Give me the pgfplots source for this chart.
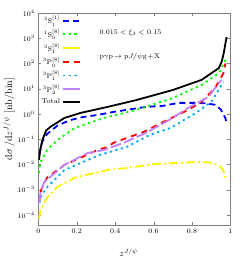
\documentclass[border=0pt]{standalone}
\usepackage{pgfplots}
\pgfplotsset{compat=1.18}
\definecolor{mypurple}{RGB}{190,130,250}
\begin{document}
\begin{tikzpicture}
\begin{axis}[
  at={(0,0)}, anchor=south west,
  scale only axis, width=192pt, height=212pt,
  ymode=log, xmin=0, xmax=1, ymin=3.98e-5, ymax=1e4,
  ytick={1e-4,1e-3,1e-2,1e-1,1,1e1,1e2,1e3,1e4},
  yminorticks=false,
  xtick={0,0.2,0.4,0.6,0.8,1},
  xticklabels={0,0.2,0.4,0.6,0.8,1},
  tick label style={font=\scriptsize},
  axis line style={gray},
  major tick length=3pt,
  xlabel={$z^{J/\psi}$},
  ylabel={$\mathrm{d}\sigma\,/\mathrm{d}z^{J/\psi}\ [\mathrm{nb/bin}]$},
  xlabel style={font=\small, at={(axis description cs:0.47,-0.095)}, anchor=north},
  ylabel style={font=\normalsize, yshift=-4pt},
  legend style={draw=none, fill=none, font=\scriptsize, at={(axis description cs:0.0,1.0)}, anchor=north west, row sep=0.8pt, inner sep=1pt},
  legend cell align=right, legend plot pos=right,
  every axis plot/.append style={line width=1.8pt},
]
\addplot[blue, dash pattern=on 6pt off 4pt] coordinates {
(0.005,0.025) (0.02,0.08) (0.045,0.16) (0.1,0.35) (0.167,0.575) (0.23,0.75) (0.307,0.91) (0.39,1.2) (0.49,1.58) (0.56,1.9) (0.65,2.1) (0.73,2.75) (0.83,2.75) (0.88,2.6) (0.92,2.3) (0.95,1.5) (0.965,0.9) (0.974,0.69) (0.98,0.4)};
\addlegendentry{$^3\mathrm{S}_1^{[1]}$}
\addplot[green, dash pattern=on 2.2pt off 3.5pt] coordinates {
(0.003,0.0046) (0.01,0.012) (0.045,0.037) (0.099,0.093) (0.19,0.28) (0.34,0.69) (0.51,1.45) (0.70,4.27) (0.85,14.1) (0.94,41.7) (0.974,138)};
\addlegendentry{$^1\mathrm{S}_0^{[8]}$}
\addplot[yellow, dash pattern=on 9pt off 3pt on 2pt off 3pt, legend image post style={solid}] coordinates {
(0.003,0.00007) (0.01,0.00015) (0.047,0.00051) (0.099,0.0013) (0.19,0.003) (0.36,0.006) (0.46,0.0072) (0.615,0.0105) (0.75,0.0118) (0.85,0.0126) (0.91,0.0115) (0.95,0.0079) (0.965,0.0052) (0.974,0.003)};
\addlegendentry{$^3\mathrm{S}_1^{[8]}$}
\addplot[red, dash pattern=on 6pt off 5pt] coordinates {
(0.003,0.0003) (0.015,0.001) (0.045,0.003) (0.135,0.0095) (0.307,0.037) (0.36,0.049) (0.39,0.071) (0.46,0.112) (0.55,0.195) (0.64,0.44) (0.78,1.45) (0.85,3.0) (0.92,10.7) (0.964,41.7) (0.974,100)};
\addlegendentry{$^3\mathrm{P}_0^{[8]}$}
\addplot[cyan, dash pattern=on 2.2pt off 3.5pt] coordinates {
(0.005,0.0003) (0.015,0.0006) (0.047,0.0013) (0.135,0.006) (0.32,0.024) (0.46,0.049) (0.58,0.148) (0.69,0.28) (0.82,1.1) (0.9,3.0) (0.964,18.6)};
\addlegendentry{$^3\mathrm{P}_1^{[8]}$}
\addplot[mypurple, dash pattern=on 11pt off 3pt, legend image post style={solid}] coordinates {
(0.003,0.0003) (0.01,0.0007) (0.03,0.002) (0.135,0.0095) (0.255,0.028) (0.34,0.037) (0.45,0.075) (0.56,0.178) (0.69,0.63) (0.78,1.74) (0.885,4.7) (0.953,22.4)};
\addlegendentry{$^3\mathrm{P}_2^{[8]}$}
\addplot[black] coordinates {
(0.003,0.015) (0.01,0.04) (0.021,0.093) (0.04,0.22) (0.063,0.31) (0.135,0.69) (0.22,1.1) (0.36,1.9) (0.51,3.55) (0.70,8.9) (0.85,22.4) (0.94,66) (0.955,120) (0.965,250) (0.98,1120)};
\addlegendentry{Total}
\node[font=\scriptsize, anchor=west] at (axis cs:0.3,1600) {$0.015<\xi_3<0.15$};
\node[font=\scriptsize, anchor=west] at (axis cs:0.3,180) {$\mathrm{p}\gamma\mathrm{p}\!\rightarrow\mathrm{p}J/\psi\mathrm{g}\!+\!\mathrm{X}$};
\end{axis}
\path[use as bounding box] (-35pt,-37pt) rectangle (205pt,225pt);
\end{tikzpicture}
\end{document}
